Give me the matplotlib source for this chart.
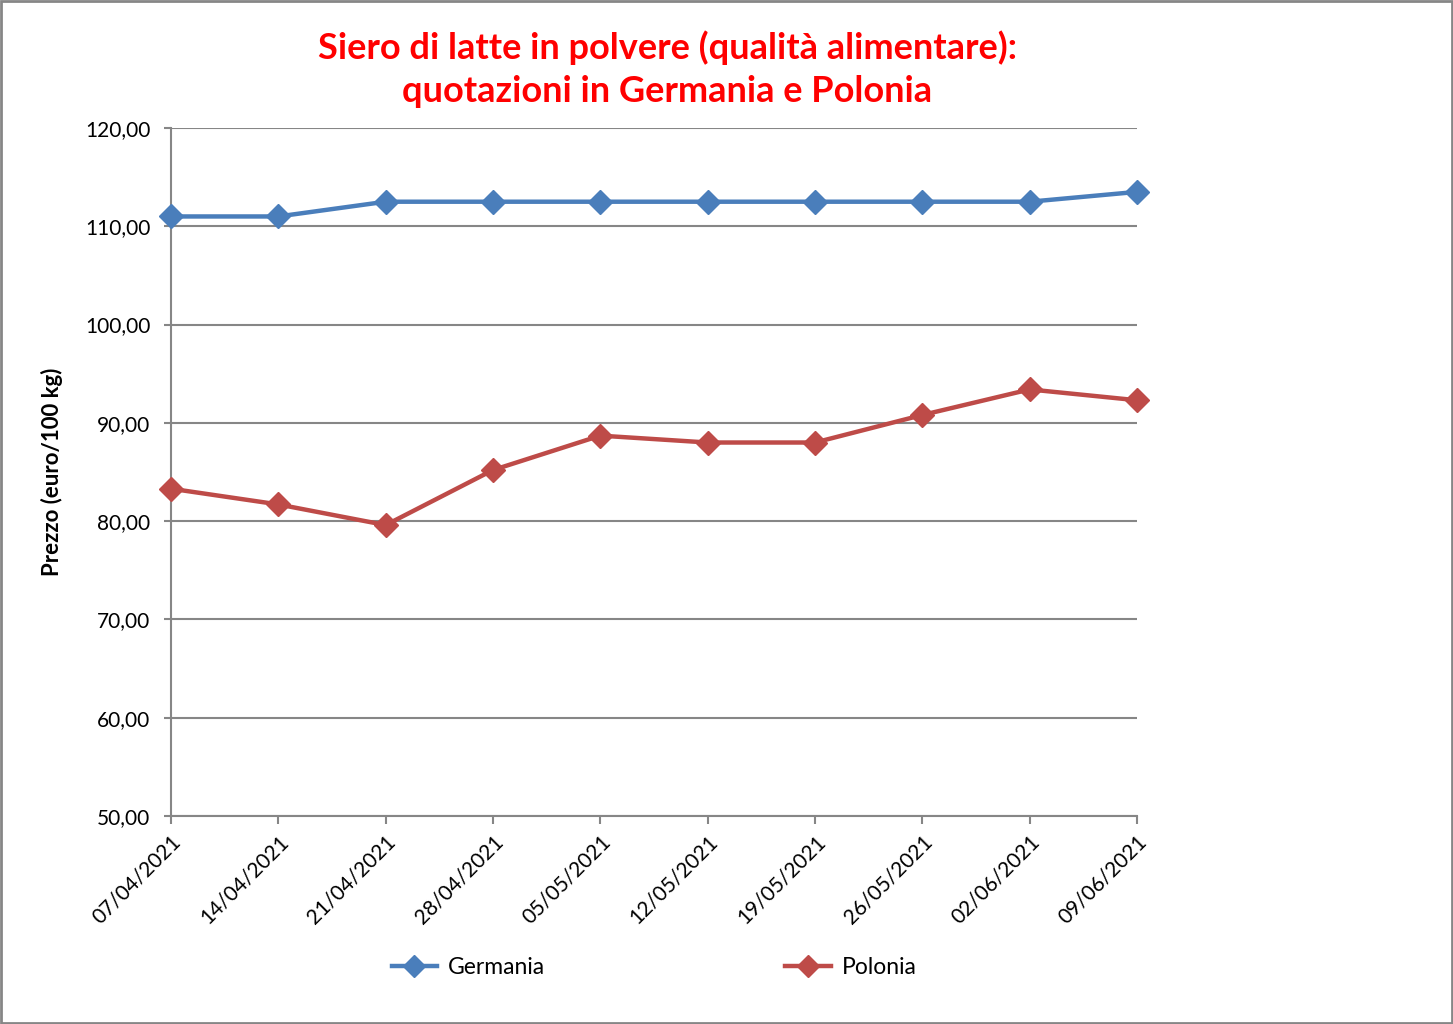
import matplotlib
matplotlib.use("Agg")
import matplotlib.pyplot as plt
from matplotlib.patches import Rectangle

dates = ["07/04/2021", "14/04/2021", "21/04/2021", "28/04/2021", "05/05/2021",
         "12/05/2021", "19/05/2021", "26/05/2021", "02/06/2021", "09/06/2021"]
germania = [111.0, 111.0, 112.5, 112.5, 112.5, 112.5, 112.5, 112.5, 112.5, 113.5]
polonia = [83.3, 81.7, 79.6, 85.2, 88.7, 88.0, 88.0, 90.8, 93.4, 92.3]
yticks = [50, 60, 70, 80, 90, 100, 110, 120]

plt.rcParams['font.family'] = ['Lato', 'DejaVu Sans']

fig = plt.figure(figsize=(14.53, 10.24), dpi=100)
ax = fig.add_axes([171/1453, 1-816/1024, (1137-171)/1453, (816-128)/1024])

x = list(range(len(dates)))
ax.plot(x, germania, color='#4A7EBB', lw=3.2, marker='D', markersize=12,
        markeredgecolor='#4A7EBB', label='Germania', clip_on=False, zorder=3)
ax.plot(x, polonia, color='#BE4B48', lw=3.2, marker='D', markersize=12,
        markeredgecolor='#BE4B48', label='Polonia', clip_on=False, zorder=3)

ax.set_xlim(0, len(dates)-1)
ax.set_ylim(50, 120)
ax.set_yticks(yticks)
ax.set_yticklabels([f"{v:.2f}".replace('.', ',') for v in yticks], fontsize=15)
ax.set_xticks(x)
ax.set_xticklabels(dates, rotation=45, ha='right', rotation_mode='anchor', fontsize=15)

gc = '#868686'
ax.grid(axis='y', color=gc, lw=1.5)
ax.set_axisbelow(True)
for s in ['top', 'right']:
    ax.spines[s].set_visible(False)
for s in ['left', 'bottom']:
    ax.spines[s].set_color(gc)
    ax.spines[s].set_linewidth(1.5)
ax.tick_params(axis='y', color=gc, width=1.5, length=5, direction='out', pad=10)
ax.tick_params(axis='x', color=gc, width=1.5, length=6, direction='out', pad=5)

ax.set_ylabel("Prezzo (euro/100 kg)", fontsize=16, fontweight='bold')
ax.yaxis.set_label_coords((63-171)/966, 0.5)

fig.text(667/1453, 1-69/1024, "Siero di latte in polvere (qualità alimentare):\nquotazioni in Germania e Polonia",
         ha='center', va='center', color='#FF0000', fontsize=26, fontweight='bold', linespacing=1.38)

fig.legend(loc='center', bbox_to_anchor=(654/1453, 1-968/1024), ncol=2, frameon=False,
           fontsize=16.5, columnspacing=10.5, handlelength=2.0, handletextpad=0.45,
           markerscale=0.9)

fig.patches.append(Rectangle((0.001, 0.001), 0.998, 0.998, transform=fig.transFigure,
                             fill=False, edgecolor='#868686', lw=2))

fig.savefig("out.png", dpi=100)
